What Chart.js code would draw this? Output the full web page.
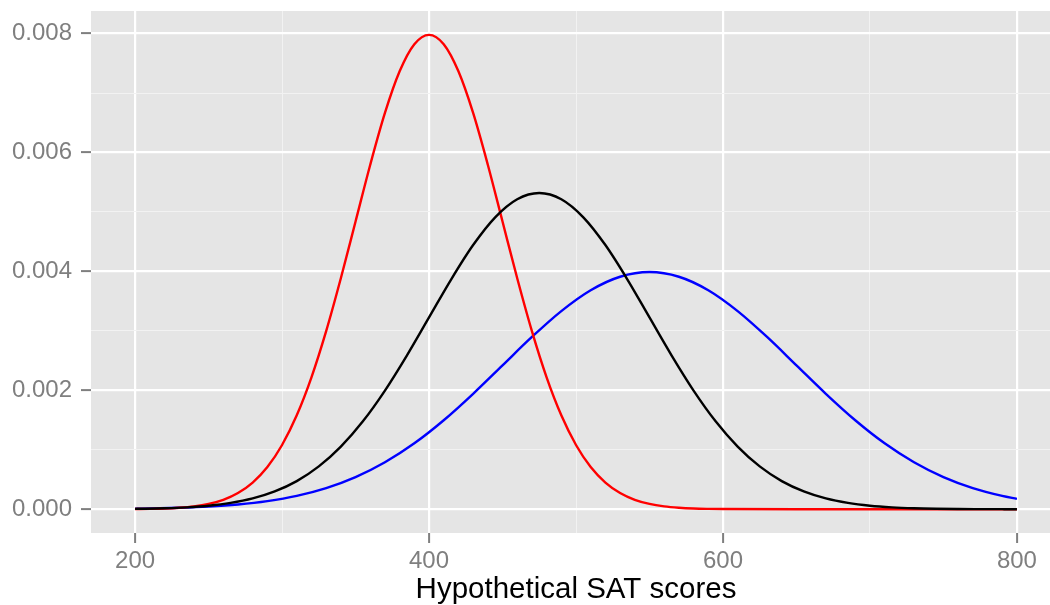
<!DOCTYPE html>
<html>
<head>
<meta charset="utf-8">
<script src="https://cdn.jsdelivr.net/npm/chart.js@4"></script>
<style>
  html, body { margin: 0; padding: 0; background: #fff; overflow: hidden; }
  #wrap { width: 1050px; height: 605px; overflow: hidden; }
</style>
</head>
<body>
<div id="wrap"><canvas id="satChart" width="1061" height="605"></canvas></div>
<script>
// values
var redX = [200,210,220,230,240,250,260,270,280,290,300,310,320,330,340,350,360,370,380,390,400,
            410,420,430,440,450,460,470,480,490,500,510,520,530,540,550,560,570,580,590,600,650,700,750,800];
var redY = [0.000003,0.000006,0.000012,0.000025,0.000048,0.000089,0.000158,0.000272,0.000448,0.000709,
            0.001080,0.001579,0.002218,0.002995,0.003884,0.004839,0.005794,0.006665,0.007365,0.007821,0.007979,
            0.007821,0.007365,0.006665,0.005794,0.004839,0.003884,0.002995,0.002218,0.001579,0.001080,
            0.000709,0.000448,0.000272,0.000158,0.000089,0.000048,0.000025,0.000012,0.000006,0.000003,0,0,0,0];

var blackX = [200,205,220,235,250,265,280,295,310,325,340,355,370,385,400,415,430,445,460,475,
              490,505,520,535,550,565,580,595,610,625,640,655,670,685,700,715,730,745,760,775,790,800];
var blackY = [0.0000064,0.0000082,0.0000164,0.0000318,0.0000591,0.000106,0.000181,0.000299,0.000473,0.000720,
              0.001053,0.001479,0.001996,0.002589,0.003226,0.003863,0.004443,0.004910,0.005214,0.005319,
              0.005214,0.004910,0.004443,0.003863,0.003226,0.002589,0.001996,0.001479,0.001053,0.000720,
              0.000473,0.000299,0.000181,0.000106,0.0000591,0.0000318,0.0000164,0.0000082,0.0000039,0.0000018,
              0.0000008,0.0000004];

var blueX = [200,210,230,250,270,290,310,330,350,370,390,410,430,450,470,490,510,530,550,
             570,590,610,630,650,670,690,710,730,750,770,790,800];
var blueY = [0.0000087,0.0000123,0.0000238,0.0000443,0.0000792,0.000136,0.000224,0.000355,0.000540,0.000790,
             0.001109,0.001497,0.001942,0.002420,0.002897,0.003332,0.003683,0.003910,0.003989,
             0.003910,0.003683,0.003332,0.002897,0.002420,0.001942,0.001497,0.001109,0.000790,0.000540,
             0.000355,0.000224,0.000175];

var xTicks = [200,300,400,500,600,700,800];
var xLabels = [200,400,600,800];
var yTicks = [0,0.001,0.002,0.003,0.004,0.005,0.006,0.007,0.008];
var yLabels = [0,0.002,0.004,0.006,0.008];

var FONT = 'Liberation Sans, Arial, Helvetica, sans-serif';

function toPoints(xs, ys) {
    return xs.map(function(x, i) { return {x: x, y: ys[i]}; });
}

function isMajor(list, v) {
    return list.some(function(l) { return Math.abs(l - v) < 1e-9; });
}

// grey panel behind the grid
var panelBg = {
    id: 'panelBg',
    beforeDraw: function(chart) {
        var a = chart.chartArea;
        var ctx = chart.ctx;
        ctx.save();
        ctx.fillStyle = '#e5e5e5';
        ctx.fillRect(a.left, a.top, a.right - a.left, a.bottom - a.top);
        ctx.restore();
    }
};

var ctx = document.getElementById('satChart').getContext('2d');
var myChart = new Chart(ctx, {
    type: 'line',
    data: {
        datasets: [
            { label: 'red', data: toPoints(redX, redY), borderColor: '#ff0000', order: 2 },
            { label: 'black', data: toPoints(blackX, blackY), borderColor: '#000000', order: 1 },
            { label: 'blue', data: toPoints(blueX, blueY), borderColor: '#0000ff', order: 3 }
        ]
    },
    options: {
        responsive: false,
        animation: false,
        elements: {
            point: { radius: 0 },
            line: { borderWidth: 2.4, tension: 0, cubicInterpolationMode: 'monotone', fill: false }
        },
        layout: { padding: { top: 11, left: 0, right: 0, bottom: 0 } },
        plugins: { legend: { display: false }, tooltip: { enabled: false } },
        scales: {
            x: {
                type: 'linear',
                min: 170,
                max: 830,
                afterBuildTicks: function(scale) {
                    scale.ticks = xTicks.map(function(v) { return {value: v}; });
                },
                afterFit: function(scale) {
                    scale.height = 72;
                    scale.paddingLeft = 0;
                    scale.paddingRight = 0;
                },
                border: { display: false },
                grid: {
                    color: function(c) { return isMajor(xLabels, c.tick.value) ? '#ffffff' : '#f2f2f2'; },
                    lineWidth: function(c) { return isMajor(xLabels, c.tick.value) ? 2.2 : 1; },
                    tickColor: function(c) { return isMajor(xLabels, c.tick.value) ? '#7f7f7f' : 'rgba(0,0,0,0)'; },
                    tickLength: 10,
                    tickWidth: 2
                },
                ticks: {
                    autoSkip: false,
                    maxRotation: 0,
                    padding: 6,
                    color: '#7f7f7f',
                    font: { family: FONT, size: 24, lineHeight: 1 },
                    callback: function(v) { return isMajor(xLabels, v) ? String(v) : ''; }
                },
                title: {
                    display: true,
                    text: 'Hypothetical SAT scores',
                    color: '#000000',
                    font: { family: FONT, size: 29.5, lineHeight: 1 },
                    padding: { top: 0, bottom: 0 }
                }
            },
            y: {
                type: 'linear',
                min: -0.0004,
                max: 0.00838,
                afterBuildTicks: function(scale) {
                    scale.ticks = yTicks.map(function(v) { return {value: v}; });
                },
                afterFit: function(scale) {
                    scale.width = 91;
                    scale.paddingTop = 0;
                    scale.paddingBottom = 0;
                },
                border: { display: false },
                grid: {
                    color: function(c) { return isMajor(yLabels, c.tick.value) ? '#ffffff' : '#f2f2f2'; },
                    lineWidth: function(c) { return isMajor(yLabels, c.tick.value) ? 2.2 : 1; },
                    tickColor: function(c) { return isMajor(yLabels, c.tick.value) ? '#7f7f7f' : 'rgba(0,0,0,0)'; },
                    tickLength: 10,
                    tickWidth: 2
                },
                ticks: {
                    autoSkip: false,
                    padding: 9,
                    color: '#7f7f7f',
                    font: { family: FONT, size: 24 },
                    callback: function(v) { return isMajor(yLabels, v) ? v.toFixed(3) : ''; }
                }
            }
        }
    },
    plugins: [panelBg]
});
</script>
</body>
</html>
